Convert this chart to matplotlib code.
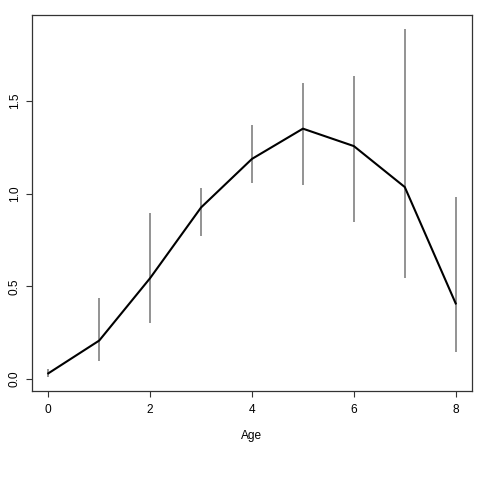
import matplotlib
matplotlib.use("Agg")
import matplotlib.pyplot as plt

plt.rcParams['font.family'] = ['Liberation Sans', 'DejaVu Sans']

# values
age = [0, 1, 2, 3, 4, 5, 6, 7, 8]
mean = [0.031, 0.208, 0.545, 0.926, 1.188, 1.351, 1.257, 1.036, 0.408]
lower = [0.011, 0.100, 0.300, 0.770, 1.058, 1.049, 0.848, 0.543, 0.145]
upper = [0.054, 0.440, 0.897, 1.031, 1.370, 1.600, 1.634, 1.889, 0.980]

fig = plt.figure(figsize=(4.8, 4.8), dpi=100)
ax = fig.add_axes([32/480, 89/480, 440/480, 376/480])

# error bars as plain gray segments
ax.vlines(age, lower, upper, color='#808080', linewidth=1.2)
ax.plot(age, mean, color='black', linewidth=1.5)

# R style 4% padding
xr = max(age) - min(age)
ax.set_xlim(min(age) - 0.04*xr, max(age) + 0.04*xr)
lo, hi = min(lower), max(upper)
yr = hi - lo
ax.set_ylim(lo - 0.04*yr, hi + 0.04*yr)

ax.set_xticks([0, 2, 4, 6, 8])
ax.set_yticks([0.0, 0.5, 1.0, 1.5])
ax.set_yticklabels(['0.0', '0.5', '1.0', '1.5'], rotation=90, va='center')
ax.tick_params(direction='out', length=4.1, width=0.8, labelsize=8.6,
               color='#333333')
ax.tick_params(axis='x', pad=5)
ax.tick_params(axis='y', pad=4)
for s in ax.spines.values():
    s.set_linewidth(0.9)
    s.set_color('#333333')

ax.set_xlabel('Age', fontsize=8.6, labelpad=10)

fig.savefig('out.png', dpi=100)
